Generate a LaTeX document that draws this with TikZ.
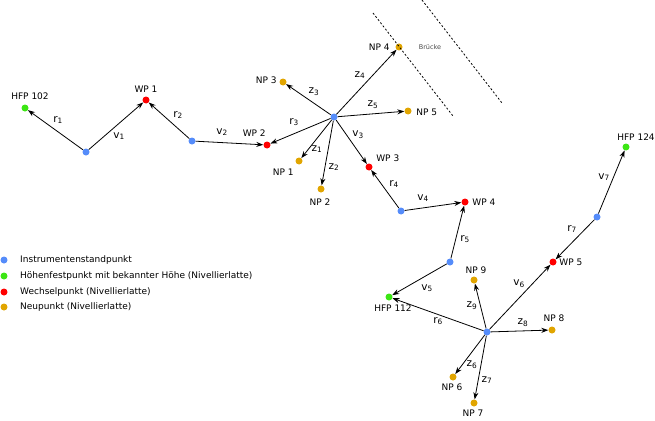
\documentclass[tikz,border=0pt]{standalone}
\usepackage{fontspec}
\setmainfont{DejaVu Sans}
\usetikzlibrary{arrows.meta}
\definecolor{isblue}{RGB}{85,140,250}
\definecolor{hfpgreen}{RGB}{60,230,20}
\definecolor{wpred}{RGB}{255,0,0}
\definecolor{nporange}{RGB}{225,165,0}

\begin{document}
\begin{tikzpicture}[
    x=1pt, y=1pt,
    pt/.style={circle, inner sep=0pt, minimum size=7pt, fill=#1},
    lbl/.style={inner sep=0pt, font=\fontsize{9}{10}\selectfont},
    blick/.style={inner sep=0pt, font=\fontsize{10.5}{12}\selectfont},
    every label/.style={lbl},
    arrow/.style={-{Stealth[length=7pt, width=5pt]}, line width=0.8pt},
    bank/.style={dash pattern=on 2pt off 2pt, line width=0.8pt}
]
\useasboundingbox (0,0) rectangle (655,-420);

% Instrumentenstandpunkte
\node[pt=isblue] (is1) at (86,-152) {};
\node[pt=isblue] (is2) at (192,-141) {};
\node[pt=isblue] (is3) at (334,-117) {};
\node[pt=isblue] (is4) at (401,-211) {};
\node[pt=isblue] (is5) at (450,-262) {};
\node[pt=isblue] (is6) at (487,-332) {};
\node[pt=isblue] (is7) at (597,-217) {};

% Hoehenfestpunkte
\node[pt=hfpgreen, label={[xshift=5pt, label distance=4pt]above:HFP 102}] (hfp102) at (25,-108) {};
\node[pt=hfpgreen, label={[xshift=4pt, label distance=4pt]below:HFP 112}] (hfp112) at (389,-297) {};
\node[pt=hfpgreen, label={[xshift=10pt, label distance=3pt]above:HFP 124}] (hfp124) at (626,-147) {};

% Wechselpunkte
\node[pt=wpred, label={[label distance=4pt]above:WP 1}] (wp1) at (146,-100) {};
\node[pt=wpred, label={[xshift=1.5pt, yshift=6pt]135:WP 2}] (wp2) at (267,-145) {};
\node[pt=wpred, label={[xshift=4.5pt, yshift=3pt]45:WP 3}] (wp3) at (369,-167) {};
\node[pt=wpred, label={[label distance=3.5pt]right:WP 4}] (wp4) at (465,-202) {};
\node[pt=wpred, label={[label distance=2.5pt]right:WP 5}] (wp5) at (553,-262) {};

% Neupunkte
\node[pt=nporange, label={[xshift=-2.5pt, yshift=-5pt]225:NP 1}] (np1) at (299,-161) {};
\node[pt=nporange, label={[xshift=-1pt, label distance=6pt]below:NP 2}] (np2) at (321,-189) {};
\node[pt=nporange, label={[yshift=2pt, label distance=2.5pt]left:NP 3}] (np3) at (283,-82) {};
\node[pt=nporange, label={[label distance=5.5pt]left:NP 4}] (np4) at (399,-47) {};
\node[pt=nporange, label={[yshift=-1pt, label distance=4.5pt]right:NP 5}] (np5) at (408,-111) {};
\node[pt=nporange, label={[xshift=-1pt, label distance=3pt]below:NP 6}] (np6) at (453,-377) {};
\node[pt=nporange, label={[xshift=-1pt, label distance=3pt]below:NP 7}] (np7) at (474,-403) {};
\node[pt=nporange, label={[xshift=2pt, label distance=4pt]above:NP 8}] (np8) at (552,-330) {};
\node[pt=nporange, label={[xshift=2pt, label distance=2pt]above:NP 9}] (np9) at (474,-280) {};

% Bruecke
\draw[bank] (373,-13) -- (453,-116);
\draw[bank] (422,0) -- (502,-103);
\node[font=\fontsize{6.5}{7}\selectfont, text=black!70, inner sep=0pt] (bruecke) at (430,-47) {Brücke};

% Visuren
\draw[arrow] (is1) -- (hfp102);
\draw[arrow] (is1) -- (wp1);
\draw[arrow] (is2) -- (wp1);
\draw[arrow] (is2) -- (wp2);
\draw[arrow] (is3) -- (wp2);
\draw[arrow] (is3) -- (np1);
\draw[arrow] (is3) -- (np2);
\draw[arrow] (is3) -- (np3);
\draw[arrow] (is3) -- (np4);
\draw[arrow] (is3) -- (np5);
\draw[arrow] (is3) -- (wp3);
\draw[arrow] (is4) -- (wp3);
\draw[arrow] (is4) -- (wp4);
\draw[arrow] (is5) -- (wp4);
\draw[arrow] (is5) -- (hfp112);
\draw[arrow] (is6) -- (hfp112);
\draw[arrow] (is6) -- (wp5);
\draw[arrow] (is6) -- (np6);
\draw[arrow] (is6) -- (np7);
\draw[arrow] (is6) -- (np8);
\draw[arrow] (is6) -- (np9);
\draw[arrow] (is7) -- (wp5);
\draw[arrow] (is7) -- (hfp124);

% Rueck- und Vorblicke
\node[blick] (r1) at (58,-120) {r\textsubscript{1}};
\node[blick] (v1) at (119,-136) {v\textsubscript{1}};
\node[blick] (r2) at (178,-115) {r\textsubscript{2}};
\node[blick] (v2) at (222,-132) {v\textsubscript{2}};
\node[blick] (r3) at (294,-122) {r\textsubscript{3}};
\node[blick] (v3) at (358,-135) {v\textsubscript{3}};
\node[blick] (r4) at (394,-184) {r\textsubscript{4}};
\node[blick] (v4) at (423,-198) {v\textsubscript{4}};
\node[blick] (r5) at (465,-239) {r\textsubscript{5}};
\node[blick] (v5) at (427,-288) {v\textsubscript{5}};
\node[blick] (r6) at (438,-321) {r\textsubscript{6}};
\node[blick] (v6) at (519,-284) {v\textsubscript{6}};
\node[blick] (r7) at (572,-229) {r\textsubscript{7}};
\node[blick] (v7) at (604,-177) {v\textsubscript{7}};

% Zwischenblicke
\node[blick] (z1) at (317,-149) {z\textsubscript{1}};
\node[blick] (z2) at (334,-167) {z\textsubscript{2}};
\node[blick] (z3) at (314,-92) {z\textsubscript{3}};
\node[blick] (z4) at (360,-75) {z\textsubscript{4}};
\node[blick] (z5) at (373,-105) {z\textsubscript{5}};
\node[blick] (z6) at (472,-365) {z\textsubscript{6}};
\node[blick] (z7) at (487,-380) {z\textsubscript{7}};
\node[blick] (z8) at (523,-323) {z\textsubscript{8}};
\node[blick] (z9) at (472,-306) {z\textsubscript{9}};

% Legende
\node[pt=isblue] (legis) at (4,-260) {};
\node[pt=hfpgreen] (leghfp) at (4,-276) {};
\node[pt=wpred] (legwp) at (4,-292) {};
\node[pt=nporange] (legnp) at (4,-307) {};
\node[lbl, anchor=west] (legistxt) at (20,-260) {Instrumentenstandpunkt};
\node[lbl, anchor=west] (leghfptxt) at (20,-276) {Höhenfestpunkt mit bekannter Höhe (Nivellierlatte)};
\node[lbl, anchor=west] (legwptxt) at (20,-292) {Wechselpunkt (Nivellierlatte)};
\node[lbl, anchor=west] (legnptxt) at (20,-307) {Neupunkt (Nivellierlatte)};
\end{tikzpicture}
\end{document}
